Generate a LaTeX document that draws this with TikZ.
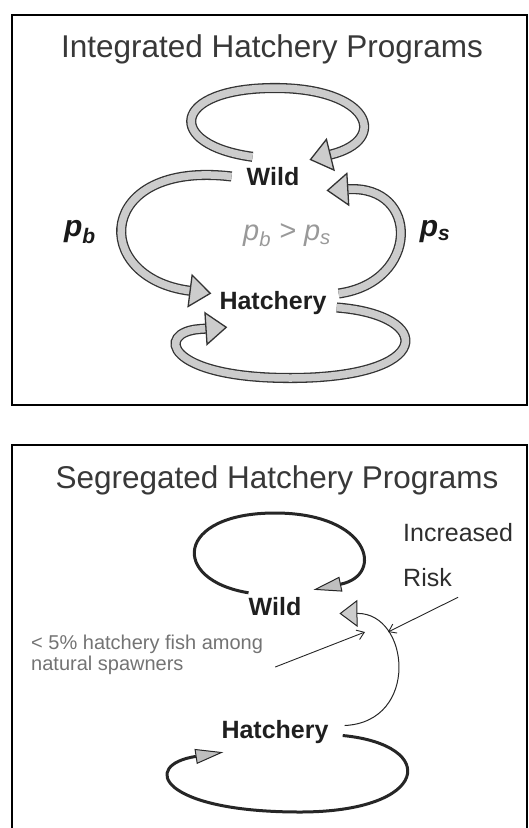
\documentclass[tikz,border=0pt]{standalone}
\usepackage{fontspec}
\setmainfont{Liberation Sans}
\usetikzlibrary{arrows.meta}

\begin{document}
\begin{tikzpicture}[x=1pt, y=-1pt, >=Stealth,
    panel/.style={draw=black, line width=2pt},
    heading/.style={anchor=base, text=black!78, font=\fontsize{31.5}{36}\selectfont},
    pop/.style={text=black!88, inner sep=2pt, text height=19pt, text depth=6pt, font=\fontsize{25}{30}\selectfont\bfseries},
    rate/.style={text=black!90, font=\fontsize{30}{34}\selectfont\bfseries\itshape},
    ineq/.style={text=black!40, font=\fontsize{29}{34}\selectfont\itshape},
    risklbl/.style={text=black!82, inner sep=0pt, align=left, font=\fontsize{25}{45}\selectfont},
    notetext/.style={text=black!55, inner sep=0pt, align=left, font=\fontsize{20}{21}\selectfont},
    band/.style={draw=black!80, line width=1.3pt, double=black!20, double distance=7.5pt,
      -{Triangle[length=22pt, width=34pt, fill=black!20, line width=1.3pt]}},
    ring/.style={draw=black!85, line width=3pt, -{Triangle[length=28pt, width=15pt, fill=black!25, line width=1pt]}},
    thinarrow/.style={draw=black!85, line width=1pt, -{Triangle[length=18pt, width=27pt, fill=black!20, line width=1pt]}},
    callout/.style={draw=black!85, line width=0.9pt, -{Straight Barb[length=7pt, width=10pt]}}]
    \useasboundingbox (0,0) rectangle (528,828);

    % integrated programs
    \draw[panel] (12,15) rectangle (527,405);
    \node[heading] (title1) at (272,57) {Integrated Hatchery Programs};
    \node[pop] (wild1) at (273,178.5) {Wild};
    \node[pop, below of=wild1, node distance=124pt] (hatch1) {Hatchery};
    \node[rate] (pb) at (80,232) {p\textsubscript{b}};
    \node[rate] (ps) at (435,232) {p\textsubscript{s}};
    \node[ineq] (cmp) at (287,235) {p\textsubscript{b} > p\textsubscript{s}};

    \draw[band] ([shift={(8,-7)}]wild1.north west) .. controls (165,145) and (170,88) .. (275,88)
        .. controls (370,88) and (390,140) .. ([shift={(8,-4)}]wild1.north east);
    \draw[band] ([shift={(-13,-2)}]wild1.west) .. controls (95,160) and (90,278) .. ([shift={(-6,-9)}]hatch1.west);
    \draw[band] ([shift={(10,-9)}]hatch1.east) .. controls (420,282) and (420,185) .. ([shift={(25,12)}]wild1.east);
    \draw[band] ([shift={(8,5)}]hatch1.east) .. controls (435,315) and (435,378) .. (290,378)
        .. controls (165,378) and (155,332) .. (200,329) -- ([shift={(10,10)}]hatch1.south west);

    % segregated programs
    \draw[panel] (12,445) rectangle (527,830);
    \node[heading] (title2) at (277,488) {Segregated Hatchery Programs};
    \node[pop] (wild2) at (275,608.5) {Wild};
    \node[pop, below of=wild2, node distance=123pt] (hatch2) {Hatchery};
    \node[risklbl, anchor=north west] (risk) at (403,523.5) {Increased\\Risk};
    \node[notetext, anchor=north west] (note) at (31,635) {< 5\% hatchery fish among\\natural spawners};

    \draw[ring] ([shift={(2,-1)}]wild2.north west) .. controls (170,580) and (175,513) .. (275,513)
        .. controls (370,513) and (385,575) .. ([shift={(10,-4)}]wild2.north east);
    \draw[thinarrow] ([shift={(14,-6)}]hatch2.east) .. controls (420,722) and (410,613) .. ([shift={(36,5)}]wild2.east);
    \draw[ring] ([shift={(12,4)}]hatch2.east) .. controls (440,745) and (430,812) .. (300,812)
        .. controls (160,812) and (140,765) .. ([shift={(4,6)}]hatch2.south west);

    \coordinate (hit) at (388,632);
    \coordinate (aim) at (365,632);
    \draw[callout] ([shift={(0,10)}]risk.south) -- (hit);
    \draw[callout] ([shift={(12,12)}]note.east) -- (aim);
\end{tikzpicture}
\end{document}
